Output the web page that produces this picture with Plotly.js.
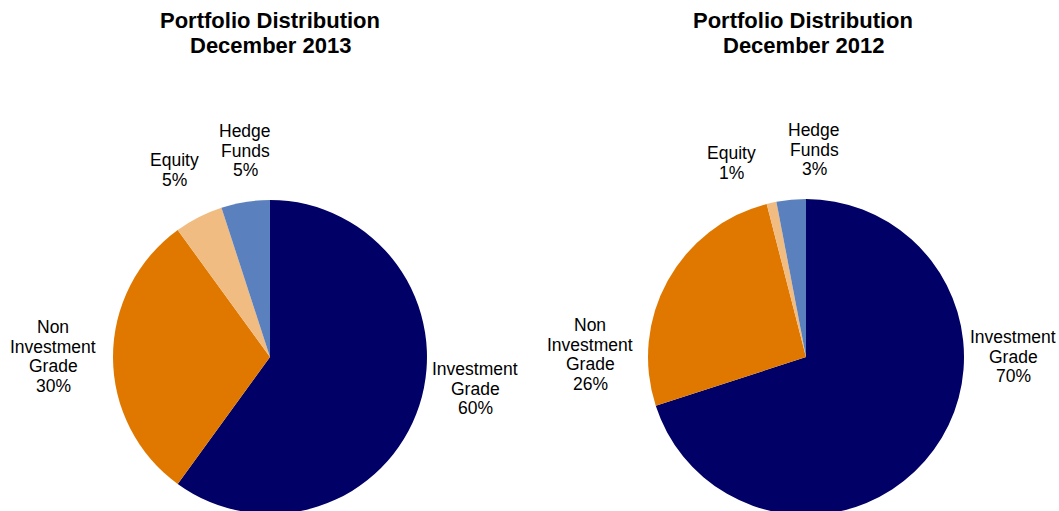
<!DOCTYPE html>
<html>
<head>
<meta charset="utf-8">
<script src="https://cdn.plot.ly/plotly-3.0.1.min.js"></script>
<style>
  html, body { margin: 0; padding: 0; overflow: hidden; background: #fff; }
  #portfolio-plot { width: 1059px; height: 540px; }
</style>
</head>
<body>
<div id="portfolio-plot"></div>
<script>
/* PORTFOLIO DATA */
var categories = ['Investment Grade', 'Non Investment Grade', 'Equity', 'Hedge Funds'];
var labelLines = [['Investment', 'Grade'], ['Non', 'Investment', 'Grade'], ['Equity'], ['Hedge', 'Funds']];
var values2013 = [60, 30, 5, 5];
var values2012 = [70, 26, 1, 3];
var titles = [['Portfolio Distribution', 'December 2013'], ['Portfolio Distribution', 'December 2012']];
var sliceColors = ['#000066', '#e07800', '#f0bc82', '#5b80be'];

var W = 1059, H = 540;
var graphDiv = document.getElementById('portfolio-plot');

function pieTrace(vals, xDomain, yDomain) {
	return {
		type: 'pie',
		labels: categories,
		values: vals,
		sort: false,
		direction: 'clockwise',
		rotation: 0,
		textinfo: 'none',
		hoverinfo: 'label+percent',
		showlegend: false,
		marker: {
			colors: sliceColors,
			line: { width: 0 }
		},
		domain: { x: xDomain, y: yDomain }
	};
}

var data = [
	pieTrace(values2013, [0.1067, 0.4032], [0.0481, 0.6296]),
	pieTrace(values2012, [0.6119, 0.9103], [0.0463, 0.6315])
];

// pixel spot of the first line of each label (x center, y center), same order as categories
var spots2013 = [[475, 369], [53, 327], [174, 160], [245, 131]];
var spots2012 = [[1013, 337], [590, 325], [731, 153], [814, 130]];
var titleSpots = [[270, 20], [803, 46 - 26]];

var labelFont = { family: 'Liberation Sans, Arial, sans-serif', size: 17.5, color: '#000' };
var titleFont = { family: 'Liberation Sans, Arial, sans-serif', size: 22, color: '#000' };
var annotations = [];

// one annotation per text line so the line spacing can match the original
function addLines(lines, px, py, step, font, bold) {
	for (var j = 0; j < lines.length; j++) {
		annotations.push({
			xref: 'paper', yref: 'paper',
			x: px / W, y: (H - (py + j * step)) / H,
			xanchor: 'center', yanchor: 'middle',
			showarrow: false,
			text: bold ? '<b>' + lines[j] + '</b>' : lines[j],
			font: font
		});
	}
}

function addLabels(vals, spots) {
	for (var i = 0; i < categories.length; i++) {
		var lines = labelLines[i].concat([vals[i] + '%']);
		addLines(lines, spots[i][0], spots[i][1], 19.7, labelFont, false);
	}
}
addLabels(values2013, spots2013);
addLabels(values2012, spots2012);

for (var t = 0; t < titles.length; t++) {
	addLines(titles[t], titleSpots[t][0], titleSpots[t][1], 26, titleFont, true);
}

var layout = {
	width: W,
	height: H,
	margin: { l: 0, r: 0, t: 0, b: 0 },
	paper_bgcolor: '#ffffff',
	annotations: annotations
};

Plotly.newPlot(graphDiv, data, layout, { displayModeBar: false, staticPlot: true });
</script>
</body>
</html>
